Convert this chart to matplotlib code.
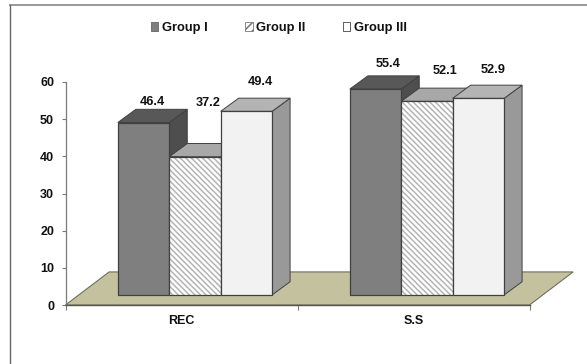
import matplotlib
matplotlib.use("Agg")
import matplotlib.pyplot as plt
from matplotlib.patches import Patch, Polygon
from matplotlib.lines import Line2D

categories = ["REC", "S.S"]
group_names = ["Group I", "Group II", "Group III"]
group_1 = [46.4, 55.4]
group_2 = [37.2, 52.1]
group_3 = [49.4, 52.9]
y_ticks = [0, 10, 20, 30, 40, 50, 60]

plt.rcParams["font.family"] = ["Liberation Sans", "DejaVu Sans"]
plt.rcParams["font.weight"] = "bold"
plt.rcParams["hatch.linewidth"] = 1.1

W, H = 587, 364
EDGE = "#404040"
AXIS = "#7a7a7a"

# front, top and side colours per group
styles = [
    {"front": "#7f7f7f", "top": "#585858", "side": "#4e4e4e", "hatch": None},
    {"front": "#ffffff", "top": "#a8a8a8", "side": "#8c8c8c", "hatch": "\\\\\\\\\\\\"},
    {"front": "#f2f2f2", "top": "#b4b4b4", "side": "#999999", "hatch": None},
]

# 3d look: how far each face is pushed back, in axis units
bar_w = 0.2216
bar_dx, bar_dy = 0.0776, 3.55
lift_dx, lift_dy = 0.058, 2.7
floor_dx, floor_dy = 0.188, 8.9

# value label shifts from the front top centre of each bar, in pixels
label_shift = [
    [(9, 20.5), (13, 25)],
    [(13, 54), (18, 30.5)],
    [(14, 29), (15, 28)],
]

fig = plt.figure(figsize=(W / 100, H / 100), dpi=100, facecolor="white")
ax = fig.add_axes([65.5 / W, 1 - 305 / H, 464 / W, 223 / H])
ax.set_xlim(0, 2)
ax.set_ylim(0, 60)
ax.patch.set_visible(False)

# outer frame, only top and left are inside the image
fig.add_artist(Line2D([9.5 / W, 1], [1 - 5 / H, 1 - 5 / H], color="#999999", lw=1.4))
fig.add_artist(Line2D([9.5 / W, 9.5 / W], [1 - 5 / H, 0], color="#666666", lw=1.0))

# floor
ax.add_patch(Polygon([(0, 0), (2, 0), (2 + floor_dx, floor_dy), (floor_dx, floor_dy)],
                     closed=True, facecolor="#c4c29e", edgecolor="#6e6e60", lw=0.8,
                     clip_on=False, zorder=1))

series = [group_1, group_2, group_3]
z = 2
for c in range(len(categories)):
    for i, values in enumerate(series):
        st = styles[i]
        v = values[c]
        left = c + 0.5 + lift_dx + (i - 1.5) * bar_w
        right = left + bar_w
        low = lift_dy
        high = lift_dy + v
        # side and top faces go behind the front face
        ax.add_patch(Polygon([(right, low), (right + bar_dx, low + bar_dy),
                              (right + bar_dx, high + bar_dy), (right, high)],
                             closed=True, facecolor=st["side"], edgecolor=EDGE, lw=0.7,
                             clip_on=False, zorder=z))
        ax.add_patch(Polygon([(left, high), (right, high),
                              (right + bar_dx, high + bar_dy), (left + bar_dx, high + bar_dy)],
                             closed=True, facecolor=st["top"], edgecolor=EDGE, lw=0.7,
                             clip_on=False, zorder=z))
        if st["hatch"]:
            ax.bar(left, v, width=bar_w, bottom=low, align="edge", color=st["front"],
                   edgecolor="#b4b4b4", hatch=st["hatch"], lw=0, zorder=z + 0.1)
            ax.bar(left, v, width=bar_w, bottom=low, align="edge", fill=False,
                   edgecolor=EDGE, lw=0.9, zorder=z + 0.2)
        else:
            ax.bar(left, v, width=bar_w, bottom=low, align="edge", color=st["front"],
                   edgecolor=EDGE, lw=0.9, zorder=z + 0.1)
        sx, sy = label_shift[i][c]
        ax.annotate(f"{v:.1f}", (left + bar_w / 2, high), xytext=(sx * 0.72, sy * 0.72),
                    textcoords="offset points", ha="center", va="center",
                    fontsize=9.2, color="#111111", zorder=50, annotation_clip=False)
        z += 1

# axes
for name in ["top", "right"]:
    ax.spines[name].set_visible(False)
ax.spines["left"].set_color(AXIS)
ax.spines["left"].set_linewidth(0.9)
ax.spines["bottom"].set_color("#55554a")
ax.spines["bottom"].set_linewidth(1.0)
ax.spines["bottom"].set_zorder(40)
ax.set_yticks(y_ticks)
ax.set_xticks([0, 1, 2])
ax.set_xticklabels([])
ax.set_xticks([0.5, 1.5], minor=True)
ax.set_xticklabels(categories, minor=True, fontsize=9, fontweight="bold", color="#111111")
ax.tick_params(axis="x", which="major", length=3.5, width=0.8, color=AXIS)
ax.tick_params(axis="x", which="minor", length=0, pad=7)
ax.tick_params(axis="y", length=3.2, width=0.8, color=AXIS, pad=5, labelsize=9, labelcolor="#111111")

handles = [
    Patch(facecolor="#7f7f7f", edgecolor="#666666", lw=0.6),
    Patch(facecolor="#ffffff", edgecolor="#777777", lw=0.6, hatch="////"),
    Patch(facecolor="#ffffff", edgecolor="#444444", lw=0.6),
]
fig.legend(handles, group_names, loc="center", bbox_to_anchor=(279 / W, 1 - 28 / H),
           ncol=3, frameon=False, fontsize=9.3, handlelength=0.6, handleheight=0.75,
           handletextpad=0.3, columnspacing=2.85, borderpad=0, borderaxespad=0,
           labelcolor="#111111")

fig.savefig("out.png", dpi=100)
